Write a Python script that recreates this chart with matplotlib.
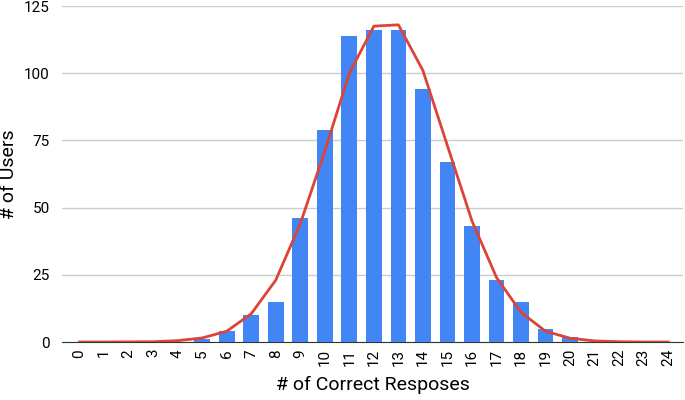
import numpy as np
import matplotlib.pyplot as plt

plt.rcParams['font.family'] = ['Roboto', 'DejaVu Sans']

# data
scores = list(range(25))
users = [0, 0, 0, 0, 0, 1, 4, 10, 15, 46, 79, 114, 116, 116, 94,
         67, 43, 23, 15, 5, 2, 0, 0, 0, 0]
fitted = [0, 0, 0.05, 0.1, 0.5, 1.5, 4, 10.5, 23, 44, 71, 100, 117.5,
          118, 101, 73, 45, 24, 11, 4, 1.4, 0.4, 0.1, 0, 0]
yticks = [0, 25, 50, 75, 100, 125]

fig = plt.figure(figsize=(6.85, 4.0), dpi=100)
ax = fig.add_axes([0.091, 0.145, 0.906, 0.84])

ax.bar(scores, users, width=0.64, color='#4285F4', zorder=2)
ax.plot(scores, fitted, color='#DB4437', linewidth=2, zorder=3)

ax.set_xlim(-0.7, 24.6)
ax.set_ylim(0, 125)
ax.set_yticks(yticks)
ax.set_xticks(scores)
ax.set_xticklabels([str(s) for s in scores], rotation=90, fontsize=11)
ax.tick_params(axis='y', labelsize=11, length=0, pad=9)
ax.tick_params(axis='x', length=0, pad=5)

ax.grid(axis='y', color='#cccccc', linewidth=1, zorder=0)
for side in ['top', 'right', 'left']:
    ax.spines[side].set_visible(False)
ax.spines['bottom'].set_color('#333333')
ax.spines['bottom'].set_zorder(1)

ax.set_xlabel("# of Correct Resposes", fontsize=14, labelpad=7)
ax.set_ylabel("# of Users", fontsize=14, labelpad=4)

plt.savefig("out.png", dpi=100)
